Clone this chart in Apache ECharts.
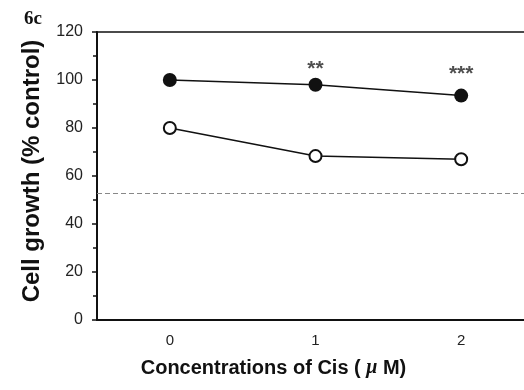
<!DOCTYPE html>
<html><head><meta charset="utf-8">
<script src="https://cdn.jsdelivr.net/npm/echarts@6/dist/echarts.min.js"></script>
<style>html,body{margin:0;padding:0;background:#fff}#c{width:524px;height:390px}</style>
</head><body><div id="c"></div>
<script>
const categories = ['0', '1', '2'];
const treated = [100, 98, 93.5];      // filled circles
const control = [80, 68.3, 67];       // open circles
const sigLabels = ['', '**', '***'];
const sigPos = [null, 104.5, 102.5];
const thresholdValue = 53;
const yTicks = [0, 20, 40, 60, 80, 100, 120];

const chart = echarts.init(document.getElementById('c'), null, {renderer: 'canvas'});
chart.setOption({
  animation: false,
  backgroundColor: '#fff',
  grid: {left: 97, width: 437, top: 32, height: 288, outerBoundsMode: 'none', containLabel: false,
    show: true, borderColor: '#111', borderWidth: 1.5, backgroundColor: 'transparent'},
  title: {text: '6c', left: 19, top: 5, textStyle: {fontFamily: 'Liberation Serif', fontWeight: 'bold', fontSize: 19, color: '#111'}},
  xAxis: {
    type: 'category', data: categories, boundaryGap: true,
    axisLine: {lineStyle: {color: '#111', width: 2}},
    axisTick: {alignWithLabel: true, length: 4, lineStyle: {color: '#111', width: 1.5}},
    axisLabel: {color: '#222', fontFamily: 'Liberation Sans', fontSize: 15, margin: 13},
    name: 'Concentrations of Cis ( {i|μ} M)', nameLocation: 'middle', nameGap: 38,
    nameTextStyle: {fontFamily: 'Liberation Sans', fontWeight: 'bold', fontSize: 20, color: '#111', padding: [0, 84, 0, 0],
      rich: {i: {fontFamily: 'Liberation Serif', fontStyle: 'italic', fontSize: 20, color: '#111'}}}
  },
  yAxis: {
    type: 'value', min: yTicks[0], max: yTicks[yTicks.length - 1], interval: 20,
    axisLine: {show: true, lineStyle: {color: '#111', width: 2}},
    axisTick: {show: true, length: 5, lineStyle: {color: '#111', width: 1.5}},
    minorTick: {show: true, splitNumber: 2, length: 4, lineStyle: {color: '#111', width: 1.5}},
    splitLine: {show: false},
    axisLabel: {color: '#222', fontFamily: 'Liberation Sans', fontSize: 16, margin: 14},
    name: 'Cell growth (% control)', nameLocation: 'middle', nameGap: 53,
    nameTextStyle: {fontFamily: 'Liberation Sans', fontWeight: 'bold', fontSize: 24, color: '#111', padding: [0, 0, 0, 10]}
  },
  series: [
    {
      type: 'line', data: treated, symbol: 'circle', symbolSize: 14,
      itemStyle: {color: '#111'}, lineStyle: {color: '#111', width: 1.5}, z: 3,
      markLine: {silent: true, symbol: 'none', label: {show: false},
        lineStyle: {type: [5, 3], color: '#888', width: 1},
        data: [{yAxis: thresholdValue}]}
    },
    {
      type: 'line', data: control, symbol: 'circle', symbolSize: 12,
      itemStyle: {color: '#fff', borderColor: '#111', borderWidth: 2},
      lineStyle: {color: '#111', width: 1.5}, z: 3
    },
    {
      type: 'scatter', data: sigPos, symbolSize: 1, itemStyle: {color: 'transparent'},
      label: {show: true, position: 'inside', formatter: p => sigLabels[p.dataIndex],
        fontFamily: 'Liberation Sans', fontWeight: 'bold', fontSize: 21, color: '#222'}
    }
  ]
});
</script></body></html>
